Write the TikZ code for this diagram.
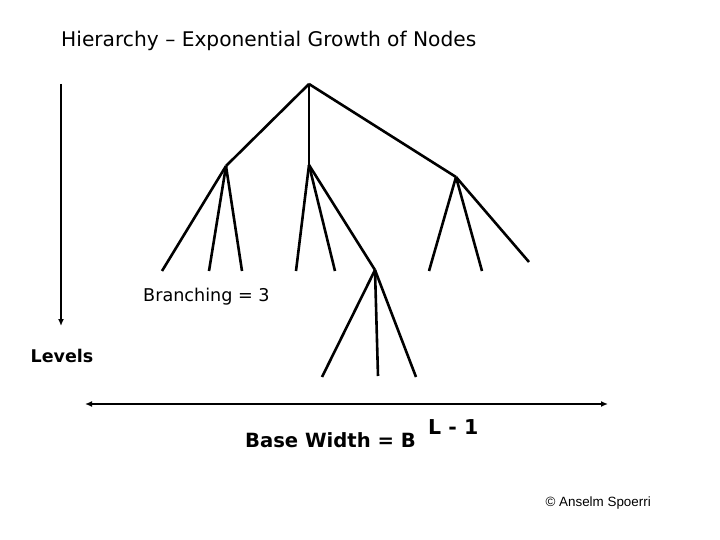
\documentclass[tikz,border=0pt]{standalone}
\usepackage{fontspec}
\setmainfont{DejaVu Sans}
\newfontfamily\arialfont{Liberation Sans}
\usetikzlibrary{arrows.meta}
\begin{document}
\begin{tikzpicture}[x=1pt,y=-1pt,
  edge/.style={line width=2.6pt},
  axis/.style={line width=1.8pt},
  tip/.style={-{Latex[length=7pt,width=6pt]}},
  lbl/.style={inner sep=0pt, anchor=center}]
\useasboundingbox (0,0) rectangle (720,540);
% tree nodes
\coordinate (r) at (309,84);
\coordinate (a) at (226,166);
\coordinate (b) at (309,165);
\coordinate (c) at (456,177);
\coordinate (d) at (375,270);
\coordinate (a1) at (162,271);
\coordinate (a2) at (209,271);
\coordinate (a3) at (242,271);
\coordinate (b1) at (296,271);
\coordinate (b2) at (335,271);
\coordinate (c1) at (429,271);
\coordinate (c2) at (482,271);
\coordinate (c3) at (529,262);
\coordinate (d1) at (322,377);
\coordinate (d2) at (378,376);
\coordinate (d3) at (416,377);
\draw[edge] (r) -- (a);
\draw[edge] (r) -- (b);
\draw[edge] (r) -- (c);
\draw[edge] (a) -- (a1);
\draw[edge] (a) -- (a2);
\draw[edge] (a) -- (a3);
\draw[edge] (b) -- (b1);
\draw[edge] (b) -- (b2);
\draw[edge] (b) -- (d);
\draw[edge] (c) -- (c1);
\draw[edge] (c) -- (c2);
\draw[edge] (c) -- (c3);
\draw[edge] (d) -- (d1);
\draw[edge] (d) -- (d2);
\draw[edge] (d) -- (d3);
% texts
\node[lbl, anchor=west] (title) at (61,41) {\fontsize{20.2}{22}\selectfont Hierarchy – Exponential Growth of Nodes};
\node[lbl, anchor=west] (branch) at (143,297) {\fontsize{17.6}{20}\selectfont Branching = 3};
\node[lbl] (levels) at (62,356) {\fontsize{17.5}{20}\selectfont\bfseries Levels};
\node[lbl, anchor=east] (base) at (416,440) {\fontsize{19.6}{22}\selectfont\bfseries Base Width = B};
\node[lbl, anchor=west] (exp) at (428,427) {\fontsize{20.5}{22}\selectfont\bfseries L - 1};
\node[lbl, anchor=east] (copy) at (651,503) {\fontsize{13.4}{15}\selectfont\arialfont © Anselm Spoerri};
% arrows
\coordinate (vtop) at (61,84);
\coordinate (vbot) at (61,326);
\draw[axis, tip] (vtop) -- (vbot);
\coordinate (hl) at (85,404);
\coordinate (hr) at (608,404);
\draw[axis, {Latex[length=7pt,width=6pt]}-{Latex[length=7pt,width=6pt]}] (hl) -- (hr);
\end{tikzpicture}
\end{document}
